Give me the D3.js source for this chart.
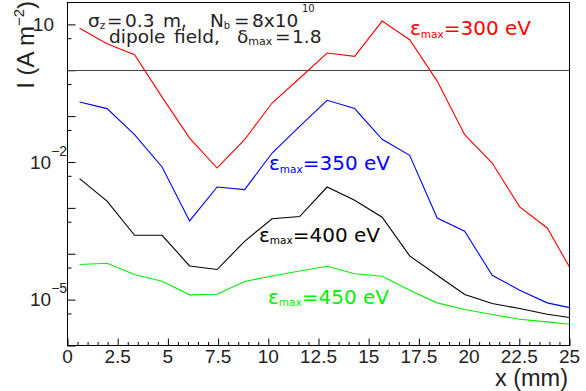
<!DOCTYPE html>
<html><head><meta charset="utf-8">
<script src="https://cdn.jsdelivr.net/npm/d3@7"></script>
<style>body{margin:0;background:#fff}svg{display:block}</style>
</head><body><svg id="c" width="586" height="391"></svg>
<script>
// ---- data ----
const xPos = [0.6, 1.97, 3.34, 4.71, 6.08, 7.45, 8.82, 10.19, 11.56, 12.93, 14.3, 15.67, 17.04, 18.41, 19.78, 21.15, 22.52, 23.89, 25];
const red300 = [8.2, 3.8, 2.19, 0.26, 0.0333, 0.0074, 0.0308, 0.193, 0.67, 2.37, 2.01, 11.8, 4.64, 0.58, 0.0395, 0.0095, 0.00105, 3.65e-4, 5.15e-5];
const blue350 = [0.203, 0.146, 0.0395, 0.00778, 5.19e-4, 2.85e-3, 2.5e-3, 0.0157, 0.06, 0.221, 0.146, 0.0313, 0.014, 6.0e-4, 3.09e-4, 3.4e-5, 1.6e-5, 8.5e-6, 6.7e-6];
const black400 = [4.35e-3, 1.41e-3, 2.53e-4, 2.53e-4, 5.42e-5, 4.53e-5, 1.87e-4, 5.8e-4, 6.46e-4, 2.85e-3, 1.47e-3, 6.24e-4, 9.0e-5, 3.4e-5, 1.29e-5, 8.2e-6, 6.4e-6, 4.8e-6, 4.07e-6];
const green450 = [5.82e-5, 6.2e-5, 3.52e-5, 2.52e-5, 1.27e-5, 1.31e-5, 2.48e-5, 3.27e-5, 4.2e-5, 5.35e-5, 3.67e-5, 3.24e-5, 1.6e-5, 8.5e-6, 6.1e-6, 4.73e-6, 3.74e-6, 3.27e-6, 2.91e-6];
const seriesLabels = ["300 eV", "350 eV", "400 eV", "450 eV"];
const xTickValues = [0, 2.5, 5, 7.5, 10, 12.5, 15, 17.5, 20, 22.5, 25];
const xTickLabels = ["0", "2.5", "5", "7.5", "10", "12.5", "15", "17.5", "20", "22.5", "25"];
const yLabelValues = [10, 1e-2, 1e-5];
const yLabelExps = ["", "\u22122", "\u22125"];
const refLevel = 1;

// ---- layout ----
const svg = d3.select("#c");
const x = d3.scaleLinear().domain([0, 25]).range([67.5, 569.5]);
const y = d3.scaleLog().domain([1e-6, 30]).range([345.5, 2.5]);
const FONT = "'Liberation Sans', Arial, Helvetica, sans-serif";
const FONT2 = "'DejaVu Sans', Verdana, sans-serif";

svg.append("defs").append("clipPath").attr("id", "clip")
  .append("rect").attr("x", x(0)).attr("y", y(30)).attr("width", x(25) - x(0)).attr("height", y(1e-6) - y(30));

// y ticks
const yMajors = d3.range(-6, 2).map(e => Math.pow(10, e));
const yMinors = d3.range(-6, 2).map(e => 5 * Math.pow(10, e)).filter(v => v < 30);
const yAxisMaj = d3.axisLeft(y).tickValues(yMajors).tickSizeInner(-8).tickSizeOuter(0).tickFormat("");
const yAxisMin = d3.axisLeft(y).tickValues(yMinors).tickSizeInner(-4).tickSizeOuter(0).tickFormat("");
[yAxisMaj, yAxisMin].forEach(a => {
  const g = svg.append("g").attr("transform", `translate(${x(0)},0)`).call(a);
  g.select(".domain").remove();
  g.selectAll("line").attr("stroke", "#000");
});
// x ticks
const xMinorVals = d3.range(0, 25.01, 0.5).filter(v => Math.abs(v / 2.5 - Math.round(v / 2.5)) > 1e-6);
const xAxisMaj = d3.axisBottom(x).tickValues(xTickValues).tickSizeInner(-7).tickSizeOuter(0).tickFormat("");
const xAxisMin = d3.axisBottom(x).tickValues(xMinorVals).tickSizeInner(-3.5).tickSizeOuter(0).tickFormat("");
[xAxisMaj, xAxisMin].forEach(a => {
  const g = svg.append("g").attr("transform", `translate(0,${y(1e-6)})`).call(a);
  g.select(".domain").remove();
  g.selectAll("line").attr("stroke", "#000");
});

// frame
svg.append("rect").attr("x", x(0)).attr("y", y(30)).attr("width", x(25) - x(0)).attr("height", y(1e-6) - y(30))
  .attr("fill", "none").attr("stroke", "#000").attr("stroke-width", 1);

// reference line at I = 1
svg.append("line").attr("x1", x(0)).attr("x2", x(25)).attr("y1", Math.round(y(refLevel)) + 0.5).attr("y2", Math.round(y(refLevel)) + 0.5)
  .attr("stroke", "#444").attr("stroke-width", 1.2);

// series
const series = [
  { vals: red300, color: "#ff0000" },
  { vals: blue350, color: "#0000ff" },
  { vals: black400, color: "#000000" },
  { vals: green450, color: "#00f000" }
];
const line = d3.line().x((d, i) => x(xPos[i])).y(d => y(d));
series.forEach(s => {
  svg.append("path").attr("d", line(s.vals)).attr("fill", "none").attr("stroke", s.color)
    .attr("stroke-width", 1.1).attr("clip-path", "url(#clip)");
});

// rich text helper: segments [text, kind, size, offset, absX]
function rich(px, py, segs, opts) {
  const t = svg.append("text").attr("x", px).attr("y", py).attr("font-family", opts.font || FONT)
    .attr("font-size", opts.size).attr("fill", opts.color || "#000")
    .attr("text-anchor", opts.anchor || "start")
    .style("white-space", "pre");
  if (opts.transform) t.attr("transform", opts.transform);
  let cur = 0;
  segs.forEach(([txt, kind, sz, off, ax]) => {
    const target = kind === "n" ? 0 : off;
    const ts = t.append("tspan").text(txt).attr("dy", target - cur);
    if (kind !== "n") ts.attr("font-size", sz);
    if (ax !== undefined) ts.attr("x", ax);
    cur = target;
  });
  return t;
}

// tick labels
svg.append("g").selectAll("text").data(xTickValues).join("text")
  .attr("x", d => x(d)).attr("y", 363).attr("text-anchor", "middle")
  .attr("font-family", FONT).attr("font-size", 19).attr("fill", "#222")
  .text((d, i) => xTickLabels[i]);
yLabelValues.forEach((v, i) => {
  if (yLabelExps[i] === "") {
    rich(54, y(v) + 6.8, [["10", "n"]], { size: 19, color: "#222", anchor: "end" });
  } else {
    rich(30, y(v) + 6.8, [["10", "n"], [yLabelExps[i], "sup", 14, -13]], { size: 19, color: "#222" });
  }
});

// axis titles
rich(568, 386, [["x (mm)", "n"]], { size: 23.5, color: "#222", anchor: "end" });
rich(0, 0, [["I (A m", "n"], ["\u22122", "sup", 15, -10], [")", "n"]],
  { size: 24, color: "#222", anchor: "end", transform: "translate(33.5,1) rotate(-90)" });

// annotations
rich(88, 26.7, [["\u03c3", "n"], ["z", "sub", 10.5, 2.5], ["=", "n", 0, 0, 107], ["0.3", "n", 0, 0, 125], ["m,", "n", 0, 0, 163],
  ["N", "n", 0, 0, 210], ["b", "sub", 10, 2.5], ["=", "n", 0, 0, 234], ["8x10", "n", 0, 0, 252], ["10", "sup", 10, -15, 302]],
  { size: 18.5, color: "#222", font: FONT2 });
rich(109, 42.7, [["dipole", "n"], ["field,", "n", 0, 0, 174], ["\u03b4", "n", 0, 0, 237], ["max", "sub", 11, 2.5],
  ["=", "n", 0, 0, 275], ["1.8", "n", 0, 0, 292]],
  { size: 18.5, color: "#222", font: FONT2 });

const labelPos = [[410, 35], [269, 170], [259, 241.5], [268, 303.5]];
series.forEach((s, i) => {
  rich(labelPos[i][0], labelPos[i][1], [["\u03b5", "n"], ["max", "sub", 10.5, 2.5], ["=" + seriesLabels[i], "n"]],
    { size: 20, color: s.color, font: FONT2 });
});
</script></body></html>
